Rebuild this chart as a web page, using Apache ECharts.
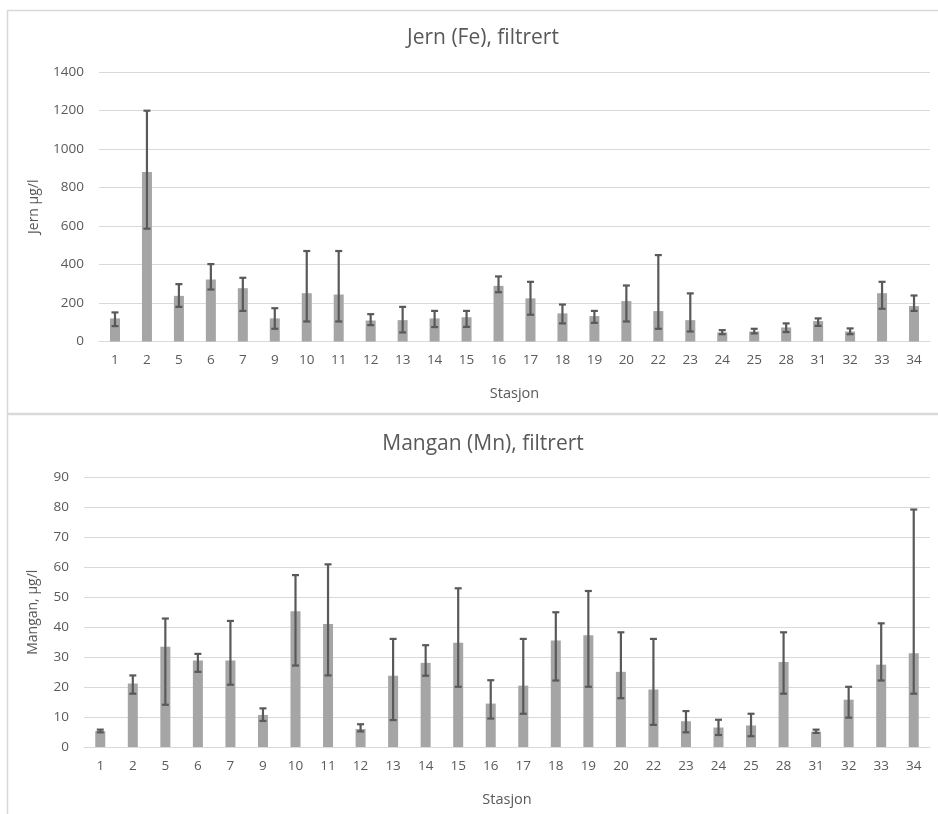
<!DOCTYPE html>
<html>
<head>
<meta charset="utf-8">
<script src="https://cdn.jsdelivr.net/npm/echarts@6/dist/echarts.min.js"></script>
<style>
html,body{margin:0;padding:0;background:#fff;}
#c{width:938px;height:814px;}
</style>
</head>
<body>
<div id="c"></div>
<script>
var categories = ['1','2','5','6','7','9','10','11','12','13','14','15','16','17','18','19','20','22','23','24','25','28','31','32','33','34'];

var feMean = [120,880,237,322,277,120,251,244,109,111,120,126,289,224,146,132,210,158,111,47,52,73,106,52,251,184];
var feHigh = [151,1199,298,402,331,173,470,470,142,180,159,159,338,310,192,159,291,449,250,59,66,94,120,68,310,239];
var feLow  = [80,586,180,270,159,66,104,104,85,47,75,76,256,139,94,97,104,66,52,38,42,49,81,38,170,159];

var mnMean = [5.3,21.2,33.5,28.9,28.9,10.7,45.3,41.1,6.0,23.8,28.1,34.8,14.5,20.5,35.6,37.3,25.1,19.2,8.6,6.5,7.2,28.4,5.1,15.8,27.5,31.3];
var mnHigh = [5.8,23.9,42.9,31.1,42.1,12.9,57.4,61.0,7.6,36.1,34.0,53.0,22.3,36.1,45.0,52.1,38.3,36.1,12.0,9.1,11.1,38.3,5.8,20.1,41.3,79.3];
var mnLow  = [4.9,17.8,14.1,25.1,20.8,8.7,27.2,23.9,5.2,9.0,23.8,20.1,9.5,11.1,22.2,20.1,16.3,7.4,4.9,4.0,3.6,17.8,4.7,9.8,22.2,17.8];

var feTicks = {min:0, max:1400, interval:200};
var mnTicks = {min:0, max:90, interval:10};

function errData(hi, lo) {
  return categories.map(function (c, i) { return [i, lo[i], hi[i]]; });
}

function renderErr(params, api) {
  var x = api.value(0);
  var lo = api.coord([x, api.value(1)]);
  var hi = api.coord([x, api.value(2)]);
  var cap = 3.5;
  var style = {stroke: '#595959', lineWidth: 2.2, fill: null};
  return {
    type: 'group',
    children: [
      {type: 'line', shape: {x1: lo[0], y1: lo[1], x2: hi[0], y2: hi[1]}, style: style},
      {type: 'line', shape: {x1: hi[0] - cap, y1: hi[1], x2: hi[0] + cap, y2: hi[1]}, style: style},
      {type: 'line', shape: {x1: lo[0] - cap, y1: lo[1], x2: lo[0] + cap, y2: lo[1]}, style: style}
    ]
  };
}

var fontFam = '"Open Sans", "Noto Sans", sans-serif';
var txt = '#595959';

function xAx(idx) {
  return {
    type: 'category', gridIndex: idx, data: categories,
    axisLine: {lineStyle: {color: '#d9d9d9', width: 1}},
    axisTick: {show: false},
    axisLabel: {color: txt, fontSize: 13.5, fontFamily: fontFam, margin: 12, interval: 0},
    name: 'Stasjon', nameLocation: 'middle', nameGap: 45,
    nameTextStyle: {color: txt, fontSize: 14.5, fontFamily: fontFam}
  };
}
function yAx(idx, t, name, gap) {
  return {
    type: 'value', gridIndex: idx, min: t.min, max: t.max, interval: t.interval,
    axisLine: {show: false}, axisTick: {show: false},
    splitLine: {lineStyle: {color: '#d9d9d9', width: 1}},
    axisLabel: {color: txt, fontSize: 13.5, fontFamily: fontFam, margin: 15,
      formatter: function (v) { return String(v); }},
    name: name, nameLocation: 'middle', nameGap: gap, nameRotate: 90,
    nameTextStyle: {color: txt, fontSize: 14, fontFamily: fontFam}
  };
}

var chart = echarts.init(document.getElementById('c'), null, {renderer: 'canvas'});
chart.setOption({
  animation: false,
  backgroundColor: '#fff',
  graphic: [
    {type: 'rect', shape: {x: 7.5, y: 10.5, width: 960, height: 403}, style: {fill: null, stroke: '#d9d9d9', lineWidth: 1.5}},
    {type: 'rect', shape: {x: 7.5, y: 414.5, width: 960, height: 420}, style: {fill: null, stroke: '#d9d9d9', lineWidth: 1.5}}
  ],
  title: [
    {text: 'Jern (Fe), filtrert', left: 478, top: 23, textAlign: 'center',
     textStyle: {color: txt, fontSize: 21, fontWeight: 'normal', fontFamily: fontFam}},
    {text: 'Mangan (Mn), filtrert', left: 478, top: 429, textAlign: 'center',
     textStyle: {color: txt, fontSize: 21, fontWeight: 'normal', fontFamily: fontFam}}
  ],
  grid: [
    {left: 99, right: 8, top: 72, height: 269.5},
    {left: 84, right: 8, top: 477.5, height: 269.5}
  ],
  xAxis: [xAx(0), xAx(1)],
  yAxis: [yAx(0, feTicks, 'Jern µg/l', 58), yAx(1, mnTicks, 'Mangan, µg/l', 44)],
  series: [
    {type: 'bar', xAxisIndex: 0, yAxisIndex: 0, data: feMean, barWidth: 10, itemStyle: {color: '#a5a5a5'}},
    {type: 'custom', xAxisIndex: 0, yAxisIndex: 0, data: errData(feHigh, feLow), renderItem: renderErr, z: 5},
    {type: 'bar', xAxisIndex: 1, yAxisIndex: 1, data: mnMean, barWidth: 10, itemStyle: {color: '#a5a5a5'}},
    {type: 'custom', xAxisIndex: 1, yAxisIndex: 1, data: errData(mnHigh, mnLow), renderItem: renderErr, z: 5}
  ]
});
</script>
</body>
</html>
